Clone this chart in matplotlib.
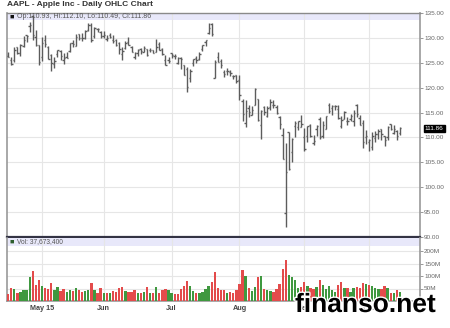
import numpy as np
import matplotlib.pyplot as plt
import matplotlib.transforms as mtransforms
from matplotlib import patheffects

# AAPL daily bars, Apr 16 - Oct 15 2015 (trading days)
dates = [
    "04-16", "04-17", "04-20", "04-21", "04-22", "04-23", "04-24", "04-27", "04-28", "04-29", "04-30",
    "05-01", "05-04", "05-05", "05-06", "05-07", "05-08", "05-11", "05-12", "05-13", "05-14",
    "05-15", "05-18", "05-19", "05-20", "05-21", "05-22", "05-26", "05-27", "05-28", "05-29",
    "06-01", "06-02", "06-03", "06-04", "06-05", "06-08", "06-09", "06-10", "06-11", "06-12",
    "06-15", "06-16", "06-17", "06-18", "06-19", "06-22", "06-23", "06-24", "06-25", "06-26",
    "06-29", "06-30",
    "07-01", "07-02", "07-06", "07-07", "07-08", "07-09", "07-10", "07-13", "07-14", "07-15",
    "07-16", "07-17", "07-20", "07-21", "07-22", "07-23", "07-24", "07-27", "07-28", "07-29",
    "07-30", "07-31",
    "08-03", "08-04", "08-05", "08-06", "08-07", "08-10", "08-11", "08-12", "08-13", "08-14",
    "08-17", "08-18", "08-19", "08-20", "08-21", "08-24", "08-25", "08-26", "08-27", "08-28",
    "08-31",
    "09-01", "09-02", "09-03", "09-04", "09-08", "09-09", "09-10", "09-11", "09-14", "09-15",
    "09-16", "09-17", "09-18", "09-21", "09-22", "09-23", "09-24", "09-25", "09-28", "09-29",
    "09-30",
    "10-01", "10-02", "10-05", "10-06", "10-07", "10-08", "10-09", "10-12", "10-13", "10-14",
    "10-15",
]
opens = [
    126.28, 125.55, 125.57, 128.10, 126.99, 128.30, 130.49, 132.31, 134.46, 130.16, 128.64,
    126.10, 129.50, 128.15, 126.56, 124.77, 126.68, 127.39, 125.60, 126.15, 127.41,
    129.07, 128.38, 130.69, 130.00, 130.07, 131.60, 132.60, 130.34, 131.86, 131.23,
    130.28, 129.86, 130.66, 129.58, 129.50, 128.90, 126.70, 127.92, 129.18, 128.19,
    126.10, 127.03, 127.72, 127.23, 127.71, 127.49, 127.48, 127.21, 128.86, 127.67,
    125.46, 125.57,
    126.90, 126.43, 124.94, 125.89, 124.64, 123.85, 121.94, 125.03, 126.04, 125.72,
    127.74, 129.08, 130.97, 132.85, 121.99, 126.20, 125.32, 123.09, 123.38, 123.15,
    122.32, 122.60,
    121.50, 117.42, 112.95, 115.97, 114.58, 116.53, 117.81, 112.53, 116.04, 114.32,
    116.04, 116.43, 116.10, 114.08, 110.43, 94.87, 111.11, 107.09, 112.23, 112.17,
    112.03,
    110.15, 110.23, 112.49, 108.97, 111.75, 113.76, 110.27, 111.79, 116.58, 115.93,
    116.25, 115.66, 112.21, 113.67, 113.38, 113.63, 113.25, 116.44, 113.85, 112.83,
    110.17,
    109.07, 108.01, 109.88, 110.63, 111.74, 110.19, 110.00, 112.73, 110.82, 111.29,
    110.93,
]
highs = [
    127.10, 126.14, 128.12, 128.20, 128.87, 130.42, 130.63, 133.13, 134.54, 131.59, 128.64,
    130.13, 130.57, 128.45, 126.75, 126.08, 127.62, 127.56, 126.88, 127.19, 128.95,
    129.49, 130.72, 130.88, 130.98, 131.63, 132.97, 132.91, 132.26, 131.95, 131.45,
    131.39, 130.66, 130.94, 130.58, 129.69, 129.21, 128.08, 129.34, 130.18, 128.33,
    127.24, 127.85, 127.88, 128.31, 127.82, 128.06, 127.61, 129.80, 129.20, 127.99,
    126.47, 126.12,
    126.94, 126.69, 126.23, 126.15, 124.64, 124.06, 123.85, 125.76, 126.37, 127.15,
    128.57, 129.62, 132.97, 132.92, 125.50, 127.09, 125.74, 123.61, 123.91, 123.50,
    122.57, 122.64,
    122.57, 117.70, 117.44, 116.50, 116.25, 119.99, 117.81, 115.42, 116.40, 116.31,
    117.65, 117.44, 116.52, 114.35, 111.90, 108.80, 111.11, 109.89, 113.24, 113.31,
    114.53,
    111.88, 112.34, 112.78, 110.45, 112.56, 114.02, 113.28, 114.21, 116.89, 116.53,
    116.54, 116.49, 114.30, 115.37, 114.18, 114.72, 115.50, 116.69, 114.57, 113.51,
    111.54,
    109.62, 111.01, 111.37, 111.74, 111.77, 110.19, 112.28, 112.75, 112.45, 111.52,
    112.10,
]
lows = [
    126.11, 124.46, 125.17, 126.67, 126.32, 128.14, 129.23, 131.15, 129.57, 128.30, 124.58,
    125.30, 128.26, 125.78, 123.36, 124.02, 126.11, 125.63, 124.82, 125.87, 127.16,
    128.21, 128.36, 129.64, 129.34, 129.83, 131.40, 129.12, 130.05, 131.10, 129.90,
    130.05, 129.32, 129.90, 128.91, 128.36, 126.83, 125.62, 127.85, 128.48, 127.11,
    125.71, 126.37, 126.74, 127.22, 126.40, 127.08, 126.88, 127.12, 127.50, 126.51,
    124.48, 124.86,
    125.99, 125.77, 124.85, 123.77, 122.54, 119.22, 121.21, 124.32, 125.04, 125.58,
    127.35, 128.31, 130.70, 130.32, 121.99, 125.06, 123.90, 122.12, 122.55, 122.27,
    121.71, 120.91,
    117.52, 113.25, 112.10, 114.12, 114.50, 116.53, 113.33, 109.63, 114.54, 114.01,
    115.50, 116.01, 114.68, 111.63, 105.65, 92.00, 103.50, 105.05, 110.02, 111.54,
    112.00,
    107.36, 109.13, 110.04, 108.51, 110.32, 109.77, 109.90, 111.76, 114.86, 114.42,
    115.44, 113.72, 111.87, 113.66, 112.52, 113.30, 112.37, 114.02, 112.44, 107.86,
    108.73,
    107.31, 107.55, 109.07, 109.77, 109.41, 108.21, 109.49, 111.44, 110.68, 109.56,
    110.49,
]
closes = [
    126.17, 124.75, 127.60, 126.91, 128.62, 129.67, 130.28, 132.65, 130.56, 128.64, 125.15,
    128.95, 128.70, 125.80, 125.01, 125.26, 127.62, 126.32, 125.87, 126.01, 128.95,
    128.77, 130.19, 130.07, 130.06, 131.39, 132.54, 129.62, 132.05, 131.78, 130.28,
    130.54, 129.96, 130.12, 129.36, 128.65, 127.80, 127.42, 128.88, 128.59, 127.17,
    126.92, 127.60, 127.30, 127.88, 126.60, 127.61, 127.03, 128.11, 127.50, 126.75,
    124.53, 125.43,
    126.60, 126.44, 126.00, 125.69, 122.57, 120.07, 123.28, 125.66, 125.61, 126.82,
    128.51, 129.62, 132.07, 130.75, 125.22, 125.16, 124.50, 122.77, 123.38, 122.99,
    122.37, 121.30,
    118.44, 114.64, 115.40, 115.13, 115.52, 119.72, 113.49, 115.24, 115.15, 115.96,
    117.16, 116.50, 115.01, 112.65, 105.76, 103.12, 103.74, 109.69, 112.92, 113.29,
    112.76,
    107.72, 112.34, 110.37, 109.27, 112.31, 110.15, 112.57, 114.21, 115.31, 116.28,
    116.41, 113.92, 113.45, 115.21, 113.40, 114.32, 115.00, 114.71, 112.44, 109.06,
    110.30,
    109.58, 110.38, 110.78, 111.31, 110.78, 109.50, 112.12, 111.60, 111.79, 110.21,
    111.86,
]
# volume, millions of shares
volumes = [
    28.4, 51.9, 47.1, 32.4, 37.7, 45.8, 44.5, 96.9, 118.9, 63.4, 83.2,
    58.5, 51.0, 49.3, 72.1, 43.9, 55.6, 42.0, 47.1, 34.2, 45.2,
    38.2, 50.9, 44.6, 36.5, 39.7, 45.6, 70.7, 45.8, 30.7, 50.9,
    32.1, 33.7, 31.0, 38.5, 35.6, 52.7, 56.1, 39.0, 35.4, 36.9,
    44.0, 31.9, 32.9, 35.4, 54.7, 34.0, 30.3, 55.3, 31.9, 44.1,
    49.2, 44.4,
    30.2, 27.2, 28.1, 46.9, 60.8, 78.6, 61.4, 41.4, 31.8, 33.6,
    36.2, 46.2, 58.9, 76.8, 115.5, 50.8, 42.2, 44.5, 33.6, 37.0,
    33.6, 42.9,
    70.0, 124.1, 99.3, 52.9, 38.7, 55.0, 97.1, 101.2, 48.5, 43.0,
    40.9, 34.5, 47.4, 68.5, 128.3, 162.2, 103.6, 96.8, 84.6, 53.2,
    56.2,
    76.8, 61.9, 53.2, 50.0, 54.8, 85.0, 62.9, 49.9, 58.4, 43.3,
    37.2, 64.1, 74.3, 50.2, 50.3, 35.8, 50.2, 56.2, 52.6, 73.4,
    66.5,
    63.7, 58.3, 52.1, 48.2, 46.8, 62.0, 52.8, 30.5, 33.0, 44.5,
    37.7,
]
prev_close = 126.78
month_names = {"05": "May 15", "06": "Jun", "07": "Jul", "08": "Aug", "09": "Sep", "10": "Oct"}

fnt = ["Liberation Sans", "DejaVu Sans"]
plt.rcParams["font.family"] = fnt

x = np.arange(len(dates))
closes_arr = np.array(closes)
prev = np.concatenate([[prev_close], closes_arr[:-1]])
vcolors = np.where(closes_arr > prev, "#3f983f", "#e34b4b")

# month start positions
tick_pos = []
tick_lab = []
for i, d in enumerate(dates):
    m = d[:2]
    if m in month_names and (i == 0 or dates[i - 1][:2] != m):
        tick_pos.append(i)
        tick_lab.append(month_names[m])

W, H = 450, 328
fig = plt.figure(figsize=(W / 100, H / 100), dpi=100)
ax = fig.add_axes([7 / W, 1 - 237 / H, 413 / W, 224 / H])
axv = fig.add_axes([7 / W, 1 - 301 / H, 413 / W, 63 / H], sharex=ax)

grid_c = "#e6e6e6"
band_c = "#e8e8fa"

# price panel
ax.axhspan(133.6, 135, color=band_c, zorder=0.5, lw=0)
for p in tick_pos:
    ax.axvline(p, color=grid_c, lw=0.8, zorder=0.6)
for yv in range(95, 135, 5):
    ax.axhline(yv, color=grid_c, lw=0.8, zorder=0.6)
bar_c = "#5c5c5c"
ax.vlines(x, lows, highs, color=bar_c, lw=1.0, zorder=3)
ax.hlines(opens, x - 0.45, x, color=bar_c, lw=1.0, zorder=3)
ax.hlines(closes, x, x + 0.45, color=bar_c, lw=1.0, zorder=3)

ax.set_xlim(-0.35, 133.5)
ax.set_ylim(90, 135)
ax.yaxis.tick_right()
ax.set_yticks(range(90, 136, 5))
ax.set_yticklabels(["%.2f" % v for v in range(90, 136, 5)])
ax.tick_params(axis="y", length=2, width=0.6, color="#888888", labelsize=4.6,
               labelcolor="#666666", pad=1)
ax.tick_params(axis="x", length=0, labelbottom=False)
for s in ["left", "right"]:
    ax.spines[s].set_color("#999999")
    ax.spines[s].set_linewidth(1.2)
ax.spines["top"].set_color("#8a8a8a")
ax.spines["top"].set_linewidth(1)
ax.spines["bottom"].set_color("#333344")
ax.spines["bottom"].set_linewidth(1.6)

# last price box
trans = mtransforms.blended_transform_factory(ax.transAxes, ax.transData)
ax.text(1.012, closes[-1], "%.2f" % closes[-1], transform=trans, fontsize=4.6,
        color="white", va="center", ha="left",
        bbox=dict(boxstyle="square,pad=0.15", fc="black", ec="black"))

# volume panel
axv.axhspan(220, 252, color=band_c, zorder=0.5, lw=0)
for p in tick_pos:
    axv.axvline(p, color=grid_c, lw=0.8, zorder=0.6)
for yv in [50, 100, 150, 200]:
    axv.axhline(yv, color=grid_c, lw=0.8, zorder=0.6)
axv.bar(x, volumes, width=0.76, color=vcolors, zorder=3, lw=0)
axv.set_ylim(0, 252)
axv.yaxis.tick_right()
axv.set_yticks([50, 100, 150, 200])
axv.set_yticklabels(["50M", "100M", "150M", "200M"])
axv.tick_params(axis="y", length=2, width=0.6, color="#888888", labelsize=4.6,
                labelcolor="#666666", pad=1)
axv.set_xticks(tick_pos)
axv.set_xticklabels(tick_lab)
axv.tick_params(axis="x", length=0, labelsize=5.2, labelcolor="#444444", pad=3)
for lab in axv.get_xticklabels():
    lab.set_fontweight("bold")
axv.spines["top"].set_visible(False)
for s in ["left", "right", "bottom"]:
    axv.spines[s].set_color("#999999")
    axv.spines[s].set_linewidth(1.2)

# header texts
fig.text(7 / W, 1 - 5 / H, "AAPL - Apple Inc - Daily OHLC Chart", fontsize=6,
         fontweight="bold", color="#333333", va="center", ha="left")
fig.text(10 / W, 1 - 17 / H, "\u25a0", fontsize=5.2, color="#111111", va="center", ha="left")
fig.text(17 / W, 1 - 17 / H, "Op:%.2f, Hi:%.2f, Lo:%.2f, Cl:%.2f" % (opens[-1], highs[-1], lows[-1], closes[-1]),
         fontsize=5.0, color="#555555", va="center", ha="left")
fig.text(10 / W, 1 - 242 / H, "\u25a0", fontsize=5.2, color="#2e5e2e", va="center", ha="left")
fig.text(17 / W, 1 - 242 / H, "Vol: {:,}".format(37673400), fontsize=4.8,
         color="#555555", va="center", ha="left")

# watermark, drawn over the date labels as in the source image
fig.text(295 / W, 1 - 312 / H, "finanso.net", fontsize=19, fontweight="heavy",
         color="black", va="baseline", ha="left", zorder=10,
         path_effects=[patheffects.withStroke(linewidth=2, foreground="white")])

fig.savefig("out.png", dpi=100)
